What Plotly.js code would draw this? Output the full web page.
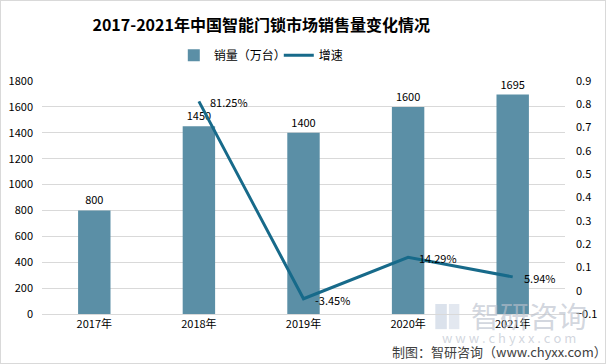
<!DOCTYPE html>
<html>
<head>
<meta charset="utf-8">
<script src="https://cdn.plot.ly/plotly-3.0.1.min.js"></script>
<style>
html,body{margin:0;padding:0;background:#fff;}
#wrap{position:relative;width:606px;height:364px;}
#chart{width:606px;height:364px;}
#border{position:absolute;left:0;top:0;width:604px;height:362px;border:1px solid #d9d9d9;pointer-events:none;}
</style>
</head>
<body>
<div id="wrap"><div id="chart"></div><div id="border"></div></div>
<script>
var categories = ['2017年', '2018年', '2019年', '2020年', '2021年'];
var sales = [800, 1450, 1400, 1600, 1695];
var growth = [null, 0.8125, -0.0345, 0.1429, 0.0594];
var growthLabels = ['', '81.25%', '-3.45%', '14.29%', '5.94%'];
var leftTicks = [0, 200, 400, 600, 800, 1000, 1200, 1400, 1600, 1800];
var rightTicks = [-0.1, 0, 0.1, 0.2, 0.3, 0.4, 0.5, 0.6, 0.7, 0.8, 0.9];

var FONT = '"Noto Sans CJK SC", "Noto Sans", sans-serif';
var WM = 'rgba(185,192,204,0.65)';

var traces = [
  {
    type: 'bar', name: '销量（万台）', x: categories, y: sales,
    marker: {color: '#5b8fa6'}, width: 0.31,
    text: sales.map(String), textposition: 'outside', cliponaxis: false,
    textfont: {size: 11, color: '#000', family: FONT}
  },
  {
    type: 'scatter', mode: 'lines', name: '增速', x: categories, y: growth,
    yaxis: 'y2', line: {color: '#176a8a', width: 3}, connectgaps: false
  }
];

var annotations = [];
categories.forEach(function (c, i) {
  if (growth[i] === null) return;
  annotations.push({
    text: growthLabels[i], xref: 'x', yref: 'y2', x: c, y: growth[i],
    xanchor: 'left', yanchor: 'middle', xshift: 9, yshift: -1, showarrow: false,
    font: {size: 11, color: '#000', family: FONT}
  });
});
annotations.push(
  {text: '智研咨询', xref: 'paper', yref: 'paper', x: 0.931, y: -0.004,
   xanchor: 'center', yanchor: 'middle', showarrow: false, font: {size: 29, color: WM, family: FONT}},
  {text: 'w w w . c h y x x . c o m', xref: 'paper', yref: 'paper', x: 0.893, y: -0.103,
   xanchor: 'center', yanchor: 'middle', showarrow: false, font: {size: 13, color: WM, family: FONT}},
  {text: '制图：智研咨询（www.chyxx.com）', xref: 'paper', yref: 'paper', x: 1.085, y: -0.16,
   xanchor: 'right', yanchor: 'middle', showarrow: false, font: {size: 13, color: '#404040', family: FONT}}
);

var layout = {
  width: 606, height: 364,
  margin: {l: 42, r: 41, t: 81, b: 50},
  paper_bgcolor: '#fff', plot_bgcolor: '#fff',
  font: {family: FONT, size: 11, color: '#000'},
  title: {text: '<b>2017-2021年中国智能门锁市场销售量变化情况</b>', x: 0.431, xanchor: 'center', y: 0.93, yanchor: 'middle',
          font: {size: 16, color: '#000', family: FONT}},
  showlegend: true,
  legend: {orientation: 'h', x: 0.252, xanchor: 'left', y: 1.11, yanchor: 'middle',
           font: {size: 12, color: '#000', family: FONT}, itemwidth: 30, entrywidth: 60, traceorder: 'normal'},
  xaxis: {type: 'category', showgrid: false, showline: true, linecolor: '#d9d9d9', ticks: '',
          tickfont: {size: 11, color: '#000'}},
  yaxis: {range: [0, 1800], tickvals: leftTicks, showgrid: true, gridcolor: '#d9d9d9', gridwidth: 1,
          zeroline: false, ticks: '', tickfont: {size: 11, color: '#000'}, ticklabelstandoff: 8},
  yaxis2: {range: [-0.1, 0.9], tickvals: rightTicks, overlaying: 'y', side: 'right', showgrid: false,
           zeroline: false, ticks: '', tickfont: {size: 11, color: '#000'}, ticklabelstandoff: 10},
  annotations: annotations,
  shapes: [
    {type: 'rect', xref: 'paper', yref: 'paper', x0: 0.752, x1: 0.774, y0: -0.065, y1: 0.043,
     line: {width: 0}, fillcolor: 'rgba(175,190,212,0.45)', layer: 'below'},
    {type: 'rect', xref: 'paper', yref: 'paper', x0: 0.778, x1: 0.798, y0: -0.065, y1: 0.043,
     line: {width: 0}, fillcolor: 'rgba(175,190,212,0.35)', layer: 'below'}
  ]
};

Plotly.newPlot('chart', traces, layout, {displayModeBar: false, staticPlot: true});
</script>
</body>
</html>
